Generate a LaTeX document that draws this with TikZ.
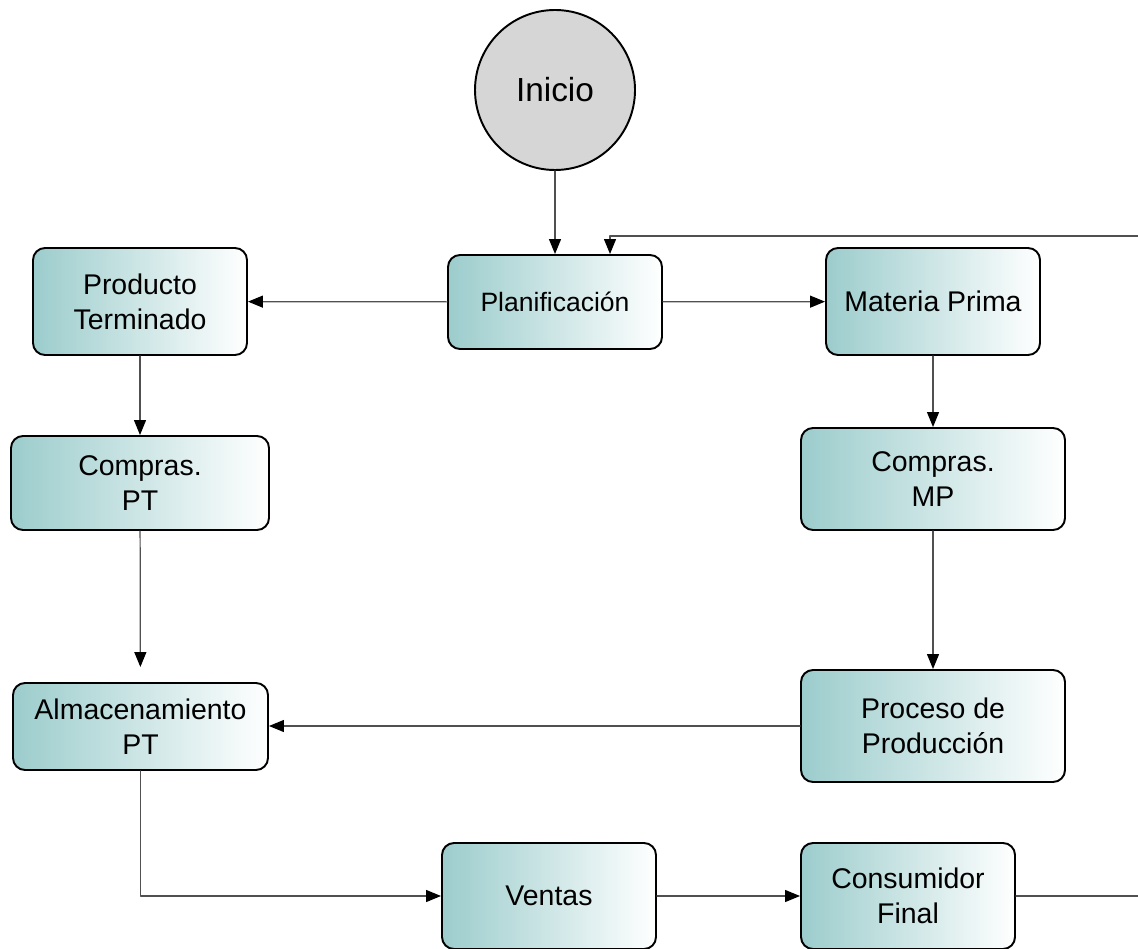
\documentclass[tikz,border=0pt]{standalone}
\usepackage{fontspec}
\setmainfont{Liberation Sans}
\usetikzlibrary{arrows.meta}
\definecolor{verdeagua}{RGB}{156,204,204}
\definecolor{grisclaro}{RGB}{214,214,214}
\definecolor{linea}{RGB}{80,80,80}

\begin{document}
\begin{tikzpicture}[line cap=round,line join=round,>={Triangle[length=0.3cm,width=0.24cm,black]},
	caja/.style={draw=black, line width=1.1pt, rounded corners=0.24cm, left color=verdeagua, right color=white, align=center, inner sep=0pt, font=\fontsize{16.2}{19.8}\selectfont},
	flecha/.style={->, draw=linea, line width=0.7pt}]
		\useasboundingbox (0,0) rectangle (22.76,18.96);
		%Inicio
		\node[circle, draw=black, line width=1.1pt, fill=grisclaro, minimum size=3.2cm, font=\fontsize{19}{22}\selectfont] (inicio) at (11.10,17.16) {Inicio};
		%Fila 1
		\node[caja, minimum width=4.28cm, minimum height=1.88cm, font=\fontsize{15.1}{19}\selectfont] (plan) at (11.10,12.92) {Planificación};
		\node[caja, minimum width=4.28cm, minimum height=2.14cm] (prod) at (2.80,12.93) {Producto\\Terminado};
		\node[caja, minimum width=4.28cm, minimum height=2.14cm] (mat) at (18.66,12.93) {Materia Prima};
		%Fila 2
		\node[caja, minimum width=5.16cm, minimum height=1.88cm] (compt) at (2.80,9.30) {Compras.\\PT};
		\node[caja, minimum width=5.28cm, minimum height=2.04cm] (compmp) at (18.66,9.38) {Compras.\\MP};
		%Fila 3
		\node[caja, minimum width=5.10cm, minimum height=1.74cm] (alm) at (2.81,4.43) {Almacenamiento\\PT};
		\node[caja, minimum width=5.28cm, minimum height=2.24cm] (proc) at (18.66,4.44) {Proceso de\\Producción};
		%Fila 4
		\node[caja, minimum width=4.28cm, minimum height=2.12cm] (ventas) at (10.98,1.04) {Ventas};
		\node[caja, minimum width=4.28cm, minimum height=2.12cm] (cons) at (18.16,1.04) {Consumidor\\Final};
		\coordinate (retorno) at (22.76,14.24);
		\coordinate (salida) at (22.76,1.04);
		%conexiones
		\draw[flecha] (inicio) -- (plan);
		\draw[flecha] (retorno) -| ([xshift=1.1cm]plan.north);
		\draw[flecha] (plan) -- (prod);
		\draw[flecha] (plan) -- (mat);
		\draw[flecha] (prod) -- (compt);
		\draw[flecha] (mat) -- (compmp);
		\draw[flecha, shorten >=0.3cm] (compt) -- (alm);
		\draw[flecha] (compmp) -- (proc);
		\draw[flecha] (proc) -- (alm.east |- proc);
		\draw[flecha] (alm) |- (ventas);
		\draw[flecha] (ventas) -- (cons);
		\draw[draw=linea, line width=0.7pt] (cons) -- (salida);
\end{tikzpicture}
\end{document}
